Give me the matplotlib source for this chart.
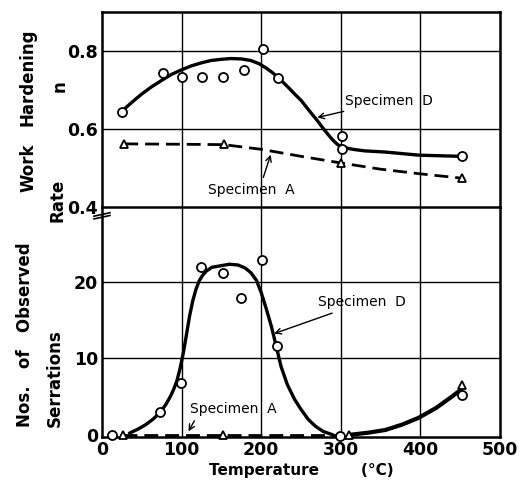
import matplotlib.pyplot as plt
import numpy as np

# --- work hardening rate n (upper panel) ---
d_temp = [25, 77, 101, 126, 152, 178, 202, 221, 301, 301, 452]
d_n = [0.644, 0.744, 0.733, 0.733, 0.733, 0.751, 0.806, 0.731, 0.582, 0.549, 0.531]
a_temp = [28, 153, 300, 452]
a_n = [0.562, 0.562, 0.513, 0.474]

# curves
d_curve_t = [30, 40, 50, 62, 75, 87, 100, 112, 125, 137, 150, 162, 175, 187, 197, 206, 214,
             221, 228, 235, 242, 250, 260, 270, 280, 289, 296, 303, 315, 330, 356, 398, 450]
d_curve_n = [0.655, 0.673, 0.690, 0.708, 0.725, 0.740, 0.752, 0.762, 0.770, 0.776, 0.779,
             0.781, 0.780, 0.776, 0.768, 0.757, 0.745, 0.733, 0.719, 0.705, 0.690, 0.674,
             0.648, 0.623, 0.596, 0.574, 0.560, 0.553, 0.548, 0.544, 0.541, 0.533, 0.530]
a_curve_t = [28, 100, 153, 200, 250, 300, 350, 400, 452]
a_curve_n = [0.562, 0.561, 0.560, 0.548, 0.530, 0.513, 0.497, 0.485, 0.474]

# --- number of serrations (lower panel) ---
ds_temp = [12, 73, 99, 124, 152, 175, 201, 220, 299, 452]
ds_cnt = [0, 3.0, 6.8, 22.0, 21.2, 17.9, 22.9, 11.6, -0.2, 5.2]
as_temp = [27, 152, 310, 452]
as_cnt = [0, 0, -0.1, 6.5]

ds_curve_t = [35, 45, 55, 64, 73, 80, 86, 90, 94, 98, 102, 106, 110, 114, 118, 122, 126,
              131, 138, 149, 160, 171, 180, 187, 194, 200, 206, 213, 219, 225, 233, 242,
              250, 259, 268, 278, 289]
ds_curve_c = [0.2, 0.7, 1.3, 2.0, 2.9, 3.9, 5.0, 5.9, 7.0, 8.6, 10.6, 13.0, 15.5, 17.5,
              19.0, 20.1, 20.8, 21.4, 21.9, 22.1, 22.3, 22.2, 21.8, 21.2, 20.2, 18.6,
              16.6, 14.1, 11.5, 8.9, 6.5, 4.6, 3.3, 2.0, 1.1, 0.4, 0.0]
as_curve_t = [27, 100, 152, 200, 250, 295]
as_curve_c = [0, 0, 0, 0, 0, 0]
tail_t = [314, 335, 356, 377, 398, 420, 440, 450]
tail_c = [0.0, 0.25, 0.6, 1.3, 2.2, 3.5, 5.0, 5.8]

plt.rcParams['font.family'] = 'DejaVu Sans'

fig = plt.figure(figsize=(5.23, 4.87), dpi=100)
ax1 = fig.add_axes([0.195, 0.575, 0.761, 0.400])
ax2 = fig.add_axes([0.195, 0.103, 0.761, 0.472])

for ax in (ax1, ax2):
    ax.set_xlim(0, 500)
    for s in ax.spines.values():
        s.set_linewidth(1.8)
    ax.tick_params(length=0, labelsize=12.5, pad=3)
    for xv in [100, 200, 300, 400]:
        ax.axvline(xv, color='black', lw=1.0, zorder=0)

# upper panel
ax1.set_ylim(0.4, 0.9)
ax1.set_yticks([0.4, 0.6, 0.8])
ax1.set_yticklabels(['0.4', '0.6', '0.8'], fontweight='bold')
ax1.set_xticks([0, 100, 200, 300, 400, 500])
ax1.set_xticklabels([])
for yv in [0.6, 0.8]:
    ax1.axhline(yv, color='black', lw=1.0, zorder=0)
ax1.spines['bottom'].set_visible(False)

ax1.plot(d_curve_t, d_curve_n, color='black', lw=2.4, solid_joinstyle='round')
ax1.plot(a_curve_t, a_curve_n, color='black', lw=2.0, ls=(0, (5, 2.5)))
ax1.plot(d_temp, d_n, 'o', mfc='white', mec='black', mew=1.3, ms=6.5, zorder=5)
ax1.plot(a_temp, a_n, '^', mfc='white', mec='black', mew=1.3, ms=6, zorder=5)

ax1.annotate('Specimen  D', xy=(267, 0.628), xytext=(305, 0.672),
             fontsize=10, va='center', ha='left',
             arrowprops=dict(arrowstyle='->', color='black', lw=1.0))
ax1.annotate('Specimen  A', xy=(213, 0.541), xytext=(133, 0.444),
             fontsize=10, va='center', ha='left',
             arrowprops=dict(arrowstyle='->', color='black', lw=1.0,
                             relpos=(0.62, 1.0)))

# lower panel
ax2.set_ylim(-0.3, 29.8)
ax2.set_yticks([0, 10, 20])
ax2.set_yticklabels(['0', '10', '20'], fontweight='bold')
ax2.set_xticks([0, 100, 200, 300, 400, 500])
ax2.set_xticklabels(['0', '100', '200', '300', '400', '500'], fontweight='bold')
for yv in [10, 20]:
    ax2.axhline(yv, color='black', lw=1.0, zorder=0)

ax2.plot(ds_curve_t, ds_curve_c, color='black', lw=2.4, solid_joinstyle='round')
ax2.plot(as_curve_t, as_curve_c, color='black', lw=2.0, ls=(0, (5, 2.5)))
ax2.plot(tail_t, tail_c, color='black', lw=3.0, solid_joinstyle='round')
ax2.plot(ds_temp, ds_cnt, 'o', mfc='white', mec='black', mew=1.3, ms=6.5, zorder=5, clip_on=False)
ax2.plot(as_temp, as_cnt, '^', mfc='white', mec='black', mew=1.3, ms=6, zorder=5, clip_on=False)

ax2.annotate('Specimen  D', xy=(213, 13.1), xytext=(272, 17.3),
             fontsize=10, va='center', ha='left',
             arrowprops=dict(arrowstyle='->', color='black', lw=1.0))
ax2.annotate('Specimen  A', xy=(107, 0.1), xytext=(111, 3.4),
             fontsize=10, va='center', ha='left',
             arrowprops=dict(arrowstyle='->', color='black', lw=1.0,
                             relpos=(0.08, 0.0)))

# break mark on the left spine
for dy in (-0.012, 0.0):
    ax2.plot([-0.02, 0.02], [0.96 + dy, 0.975 + dy], transform=ax2.transAxes,
             color='black', lw=1.2, clip_on=False)

ax2.text(0.5, -0.145, 'Temperature        (°C)', transform=ax2.transAxes,
         ha='center', va='center', fontsize=11, fontweight='bold')

# left labels
fig.text(28 / 523, 1 - 77 / 487, 'Hardening', rotation=90, ha='center', va='center',
         fontsize=12, fontweight='bold')
fig.text(28 / 523, 1 - 168 / 487, 'Work', rotation=90, ha='center', va='center',
         fontsize=12, fontweight='bold')
fig.text(60 / 523, 1 - 86 / 487, 'n', rotation=90, ha='center', va='center',
         fontsize=12, fontweight='bold')
fig.text(58 / 523, 1 - 200 / 487, 'Rate', rotation=90, ha='center', va='center',
         fontsize=12, fontweight='bold')
fig.text(25 / 523, 1 - 335 / 487, 'Nos.   of   Observed', rotation=90, ha='center',
         va='center', fontsize=12, fontweight='bold')
fig.text(55 / 523, 1 - 378 / 487, 'Serrations', rotation=90, ha='center', va='center',
         fontsize=12, fontweight='bold')

fig.savefig('out.png', dpi=100)
